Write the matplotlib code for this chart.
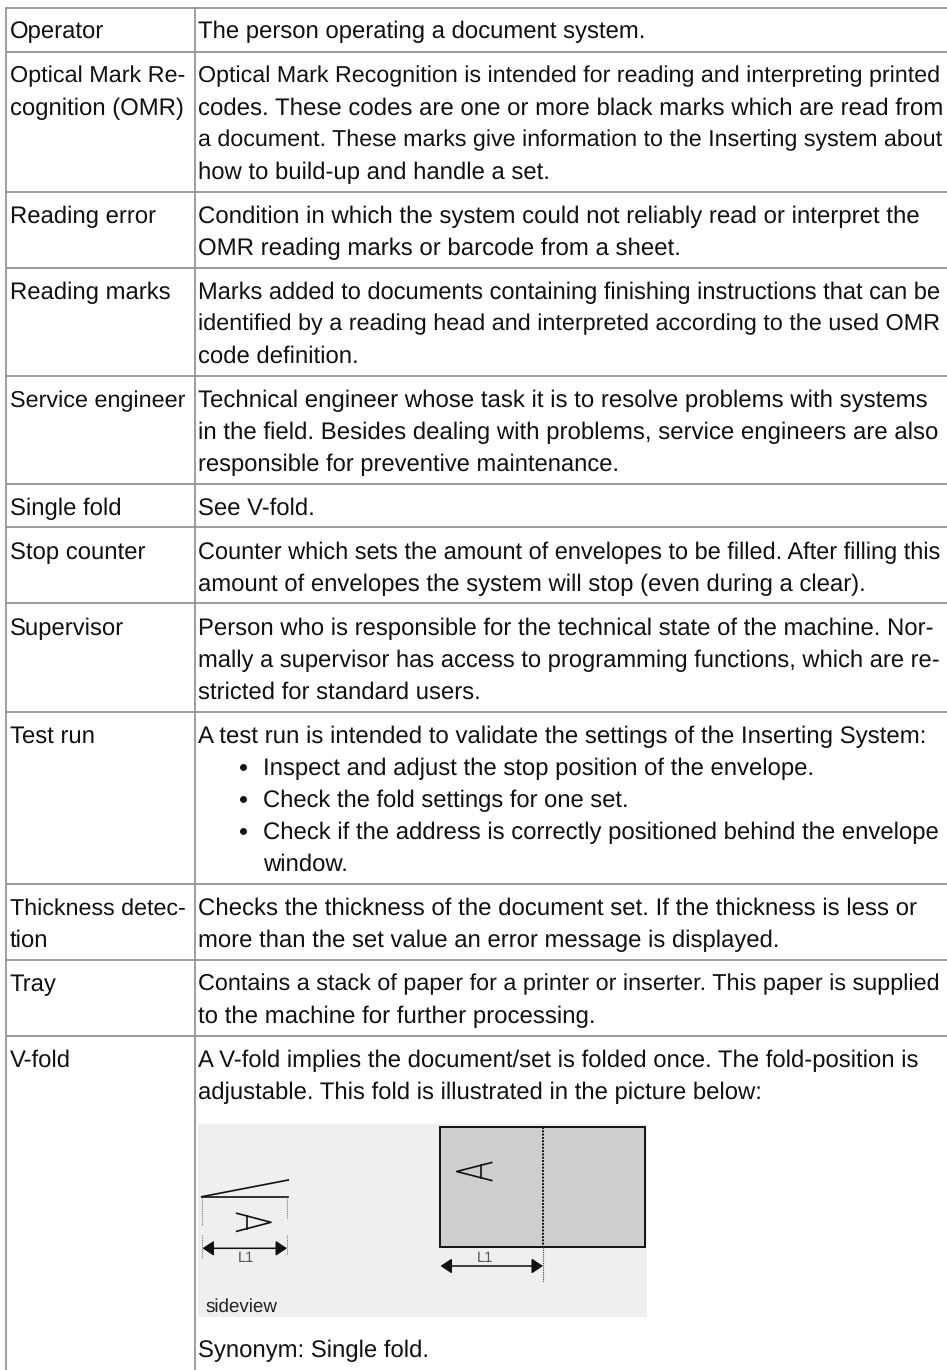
#!/usr/bin/env python3
import matplotlib
matplotlib.use('Agg')
import matplotlib.pyplot as plt

W = 947
H = 1370

# row data, top rule and first baseline are pixel rows read from the page
terms = [
    ['Operator'],
    ['Optical Mark Re-', 'cognition (OMR)'],
    ['Reading error'],
    ['Reading marks'],
    ['Service engineer'],
    ['Single fold'],
    ['Stop counter'],
    ['Supervisor'],
    ['Test run'],
    ['Thickness detec-', 'tion'],
    ['Tray'],
    ['V-fold'],
]
term_right = [
    [None], [184.7, 183], [None], [None], [185], [None],
    [None], [None], [None], [185, None], [None], [None],
]
definitions = [
    ['The person operating a document system.'],
    ['Optical Mark Recognition is intended for reading and interpreting printed',
     'codes. These codes are one or more black marks which are read from',
     'a document. These marks give information to the Inserting system about',
     'how to build-up and handle a set.'],
    ['Condition in which the system could not reliably read or interpret the',
     'OMR reading marks or barcode from a sheet.'],
    ['Marks added to documents containing finishing instructions that can be',
     'identified by a reading head and interpreted according to the used OMR',
     'code definition.'],
    ['Technical engineer whose task it is to resolve problems with systems',
     'in the field. Besides dealing with problems, service engineers are also',
     'responsible for preventive maintenance.'],
    ['See V-fold.'],
    ['Counter which sets the amount of envelopes to be filled. After filling this',
     'amount of envelopes the system will stop (even during a clear).'],
    ['Person who is responsible for the technical state of the machine. Nor-',
     'mally a supervisor has access to programming functions, which are re-',
     'stricted for standard users.'],
    ['A test run is intended to validate the settings of the Inserting System:'],
    ['Checks the thickness of the document set. If the thickness is less or',
     'more than the set value an error message is displayed.'],
    ['Contains a stack of paper for a printer or inserter. This paper is supplied',
     'to the machine for further processing.'],
    ['A V-fold implies the document/set is folded once. The fold-position is',
     'adjustable. This fold is illustrated in the picture below:'],
]
definition_right = [
    [646.7],
    [941.7, 941.7, 942, 550],
    [920, 680.7],
    [941.7, 941.5, None],
    [926.7, 938.3, 620],
    [None],
    [941.7, 866.7],
    [934, 941.7, None],
    [928.3],
    [915.7, 780],
    [941.7, 595],
    [920, 762.3],
]
bullets = [
    ['Inspect and adjust the stop position of the envelope.'],
    ['Check the fold settings for one set.'],
    ['Check if the address is correctly positioned behind the envelope', 'window.'],
]
bullet_right = [[813.3], [629], [939.3, None]]
rule_y = [8, 52, 191.7, 267.7, 376, 483.7, 527.3, 603.3, 711.7, 883.7, 959.7, 1035.7]
first_baseline = [38.5, 82.7, 222.7, 298.7, 407, 515, 559.3, 635, 742.7, 915, 990.7, 1066.7]
LINE_H = 32
FONT_SIZE = 17.2
TEXT_COLOR = '#111111'
RULE_COLOR = '#8c8c8c'

plt.rcParams['font.family'] = ['Liberation Sans', 'DejaVu Sans']
plt.rcParams['text.hinting'] = 'no_hinting'

fig = plt.figure(figsize=(W / 100, H / 100), dpi=100)
ax = fig.add_axes([0, 0, 1, 1])
ax.set_xlim(0, W)
ax.set_ylim(H, 0)
ax.axis('off')
renderer = fig.canvas.get_renderer()


def body(x, y, s, right=None):
    # The size is nudged per line so that the line ends where it does on the page
    t = ax.text(x, y, s, fontsize=FONT_SIZE, color=TEXT_COLOR, ha='left', va='baseline')
    if right is not None:
        width = t.get_window_extent(renderer).width
        t.set_fontsize(FONT_SIZE * (right - x) / width)


# Table rules
for y in rule_y:
    ax.plot([5.5, W], [y, y], color=RULE_COLOR, lw=1.2, solid_capstyle='butt')
ax.plot([5.5, 5.5], [rule_y[0], H], color=RULE_COLOR, lw=1.2)
ax.plot([194.5, 194.5], [rule_y[0], H], color=RULE_COLOR, lw=1.2)

# Table text
for i in range(len(terms)):
    for j, line in enumerate(terms[i]):
        body(9.5, first_baseline[i] + j * LINE_H, line, term_right[i][j])
    for j, line in enumerate(definitions[i]):
        body(198.5, first_baseline[i] + j * LINE_H, line, definition_right[i][j])

# Bullet list of the test run row
y = 775
for item, rights in zip(bullets, bullet_right):
    ax.plot([242.7], [y - 8.2], 'o', color=TEXT_COLOR, ms=5, mew=0)
    for line, right in zip(item, rights):
        body(263, y, line, right)
        y += LINE_H

# Fold picture
ax.add_patch(plt.Rectangle((198, 1124), 448.7, 192.7, fc='#efefef', ec='none', zorder=1))
ax.add_patch(plt.Rectangle((440, 1127.3), 205, 120, fc='#cecece', ec='#111111', lw=1.4, zorder=2))


def stroke(xs, ys, lw=1.0, color='#111111', ls='-'):
    ax.plot(xs, ys, color=color, lw=lw, ls=ls, zorder=3)


def arrow(x0, x1, y):
    ax.annotate('', xy=(x0, y), xytext=(x1, y), zorder=3,
                arrowprops=dict(arrowstyle='<|-|>,head_length=0.45,head_width=0.3',
                                color='#111111', lw=1.1,
                                mutation_scale=15, shrinkA=0, shrinkB=0))


def letter(tip_x, end_x, bar_x, y, half, bar_half):
    stroke([end_x, tip_x, end_x], [y - half, y, y + half], lw=1.2)
    stroke([bar_x, bar_x], [y - bar_half, y + bar_half], lw=1.2)


# top view
stroke([543.3, 543.3], [1127.3, 1247.3], lw=1.4, ls=(0, (1, 0.7)))
stroke([542.7, 542.7], [1247.3, 1281.7], lw=0.8, color='#444444', ls=(0, (1, 1)))
arrow(440.5, 543, 1266)
letter(456.7, 491.7, 480.7, 1171.5, 9, 6.5)
ax.text(485, 1261.7, 'L1', fontsize=10.5, color='#555555', ha='center', va='baseline', zorder=3)

# side view
stroke([201.7, 288.3], [1196.7, 1196.7], lw=1.2)
stroke([201.7, 288.3], [1196.7, 1180], lw=1.2)
stroke([202, 202], [1197, 1225], lw=0.8, color='#777777', ls=(0, (1, 1)))
stroke([202, 202], [1235, 1258], lw=0.8, color='#777777', ls=(0, (1, 1)))
stroke([286.7, 286.7], [1197, 1218], lw=0.8, color='#777777', ls=(0, (1, 1)))
stroke([286.7, 286.7], [1235, 1255], lw=0.8, color='#777777', ls=(0, (1, 1)))
arrow(202.5, 287, 1248.3)
letter(271, 236.7, 247.3, 1222.3, 9, 6.5)
ax.text(245.7, 1261.7, 'L1', fontsize=10.5, color='#555555', ha='center', va='baseline', zorder=3)
ax.text(205, 1312.3, 'sideview', fontsize=13.5, color='#222222', ha='left', va='baseline', zorder=3)

body(198.5, 1356.7, 'Synonym: Single fold.')

fig.savefig('out.png', dpi=100)
